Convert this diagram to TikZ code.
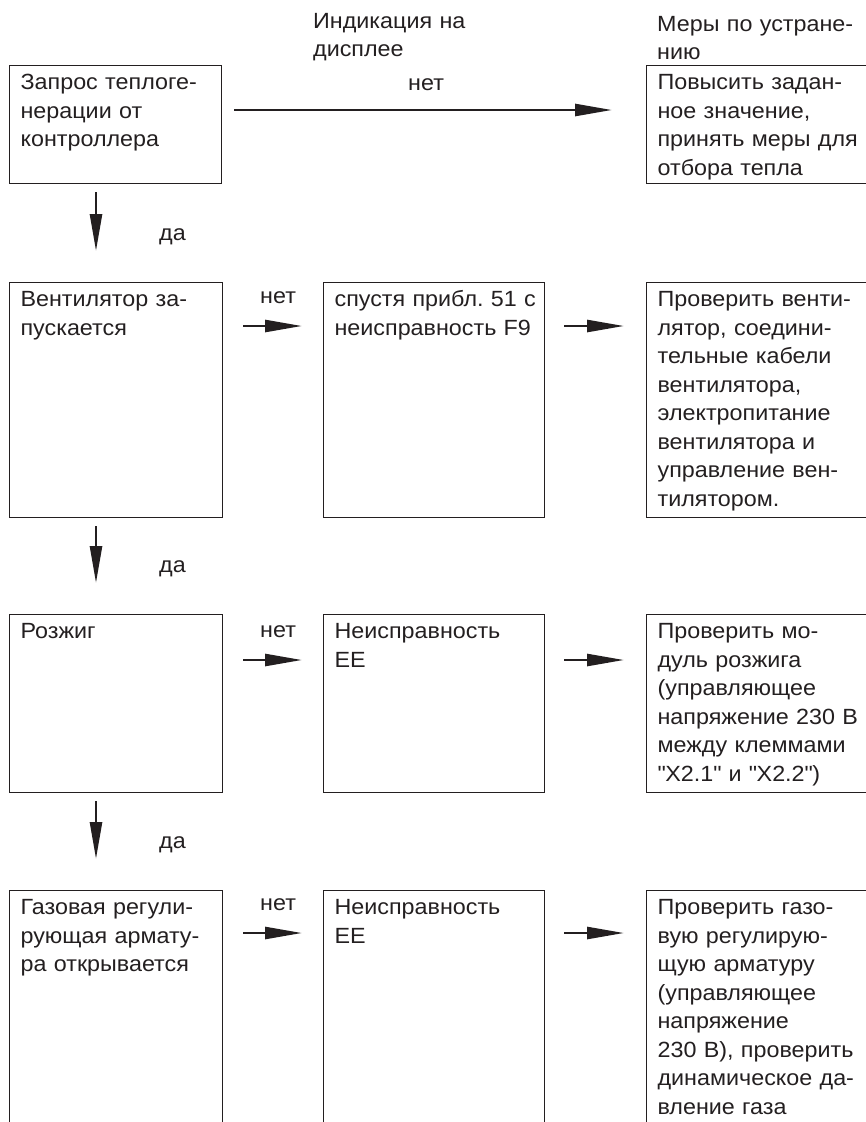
\documentclass[tikz,border=0pt]{standalone}
\usepackage{fontspec}
\setmainfont{Liberation Sans}[FakeStretch=1.06]
\usetikzlibrary{arrows.meta}
\definecolor{ink}{RGB}{35,31,32}
\frenchspacing
\hbadness=10000 \hfuzz=20pt

\begin{document}
\begin{tikzpicture}[x=1pt,y=-1pt,color=ink,font=\fontsize{22pt}{28.5pt}\selectfont,
    box/.style={draw,line width=1.2pt,anchor=north west,align=left,inner xsep=11pt,inner ysep=4pt,text height=20pt},
    arr/.style={-{Triangle[length=37pt,width=12pt]},line width=2.6pt},
    head/.style={anchor=base west,align=left,text width=220pt,inner sep=0pt},
    lbl/.style={anchor=base,inner sep=0pt}]
  \clip (0,0) rectangle (866,1122);
  % column headings
  \node[head] (disp) at (313,28) {Индикация на\\дисплее};
  \node[head] (cure) at (657,31) {Меры по устране-\\нию};
  % row 1
  \node[box,text width=190pt,text depth=90pt] (req) at (9,65) {Запрос теплоге-\\нерации от\\контроллера};
  \node[box,text width=238pt,text depth=90pt] (fix1) at (646,65) {Повысить задан-\\ное значение,\\принять меры для\\отбора тепла};
  \draw[arr,shorten <=12pt,shorten >=34pt] ([yshift=-45pt]req.north east) -- ([yshift=-45pt]fix1.north west)
    node[lbl,midway,xshift=-8pt,yshift=20pt] (no1) {нет};
  % row 2
  \node[box,text width=191pt,text depth=207pt] (fan) at (9,282) {Вентилятор за-\\пускается};
  \node[box,text width=199pt,text depth=207pt] (f9) at (323,282) {\mbox{спустя прибл. 51 с}\\неисправность F9};
  \node[box,text width=238pt,text depth=207pt] (fix2) at (646,282) {Проверить венти-\\лятор, соедини-\\тельные кабели\\вентилятора,\\электропитание\\вентилятора и\\управление вен-\\тилятором.};
  \draw[arr,shorten <=8pt,shorten >=31pt] ([xshift=87pt]req.south west) -- ([xshift=87pt]fan.north west);
  \node[lbl,anchor=base west] (yes1) at ([xshift=150pt,yshift=42pt]fan.north west) {да};
  \draw[arr,shorten <=20pt,shorten >=21pt] ([yshift=-44pt]fan.north east) -- ([yshift=-44pt]f9.north west)
    node[lbl,midway,xshift=5pt,yshift=23pt] (no2) {нет};
  \draw[arr,shorten <=19pt,shorten >=22pt] ([yshift=-44pt]f9.north east) -- ([yshift=-44pt]fix2.north west);
  % row 3
  \node[box,text width=191pt,text depth=150pt] (ign) at (9,614) {Розжиг};
  \node[box,text width=199pt,text depth=150pt] (ee1) at (323,614) {Неисправность\\EE};
  \node[box,text width=238pt,text depth=150pt] (fix3) at (646,614) {Проверить мо-\\дуль розжига\\(управляющее\\напряжение 230 В\\между клеммами\\\textquotedbl X2.1\textquotedbl\ и \textquotedbl X2.2\textquotedbl)};
  \draw[arr,shorten <=8pt,shorten >=31pt] ([xshift=87pt]fan.south west) -- ([xshift=87pt]ign.north west);
  \node[lbl,anchor=base west] (yes2) at ([xshift=150pt,yshift=42pt]ign.north west) {да};
  \draw[arr,shorten <=20pt,shorten >=21pt] ([yshift=-46pt]ign.north east) -- ([yshift=-46pt]ee1.north west)
    node[lbl,midway,xshift=5pt,yshift=23pt] (no3) {нет};
  \draw[arr,shorten <=19pt,shorten >=22pt] ([yshift=-46pt]ee1.north east) -- ([yshift=-46pt]fix3.north west);
  % row 4
  \node[box,text width=191pt,text depth=272pt] (gas) at (9,890) {Газовая регули-\\рующая армату-\\ра открывается};
  \node[box,text width=199pt,text depth=272pt] (ee2) at (323,890) {Неисправность\\EE};
  \node[box,text width=238pt,text depth=272pt] (fix4) at (646,890) {Проверить газо-\\вую регулирую-\\щую арматуру\\(управляющее\\напряжение\\230 В), проверить\\динамическое да-\\вление газа};
  \draw[arr,shorten <=8pt,shorten >=31pt] ([xshift=87pt]ign.south west) -- ([xshift=87pt]gas.north west);
  \node[lbl,anchor=base west] (yes3) at ([xshift=150pt,yshift=42pt]gas.north west) {да};
  \draw[arr,shorten <=20pt,shorten >=21pt] ([yshift=-43pt]gas.north east) -- ([yshift=-43pt]ee2.north west)
    node[lbl,midway,xshift=5pt,yshift=23pt] (no4) {нет};
  \draw[arr,shorten <=19pt,shorten >=22pt] ([yshift=-43pt]ee2.north east) -- ([yshift=-43pt]fix4.north west);
\end{tikzpicture}
\end{document}
